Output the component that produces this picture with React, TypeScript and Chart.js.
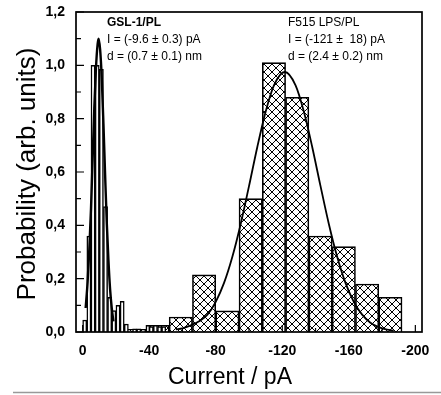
import React, { useEffect, useRef } from "react";
import { Chart, registerables } from "chart.js";

Chart.register(...registerables);

// F515 LPS/PL histogram (bin centres in pA, probability)
const rightBinCenters = [-31, -45, -59, -73, -87, -101, -115, -129, -143, -157, -171, -185];
const rightBinValues = [0.01, 0.025, 0.056, 0.214, 0.079, 0.5, 1.01, 0.88, 0.36, 0.32, 0.18, 0.13];

// GSL-1/PL histogram
const leftBinCenters = [-1.25, -3.75, -6.25, -8.75, -11.25, -13.75, -16.25, -18.75, -21.25, -23.75, -26.25, -31.25, -33.75, -41.25, -43.75, -46.25, -48.75];
const leftBinValues = [0.045, 0.36, 1.0, 1.0, 0.985, 0.47, 0.13, 0.08, 0.1, 0.115, 0.03, 0.012, 0.012, 0.02, 0.025, 0.02, 0.02];

// Fitted curves
const leftFitX = [-1.8, -3, -4, -5, -6, -7, -8, -9, -9.6, -10.5, -11.5, -12.5, -13.5, -14.5, -15.5, -16.5, -17.5, -18.5];
const leftFitY = [0.09, 0.19, 0.31, 0.46, 0.65, 0.84, 0.99, 1.08, 1.1, 1.06, 0.95, 0.78, 0.59, 0.41, 0.27, 0.16, 0.09, 0.04];
const rightFitX = [-56, -60, -65, -70, -75, -80, -85, -90, -95, -100, -105, -110, -115, -121.5, -128, -133, -138, -143, -148, -153, -158, -163, -168, -173, -178, -183, -187];
const rightFitY = [0.01, 0.014, 0.025, 0.04, 0.065, 0.113, 0.184, 0.282, 0.405, 0.547, 0.694, 0.826, 0.925, 0.975, 0.925, 0.826, 0.694, 0.547, 0.405, 0.282, 0.184, 0.113, 0.065, 0.035, 0.018, 0.009, 0.005];

const xTicks = [0, -40, -80, -120, -160, -200];
const xMinorTicks = [-20, -60, -100, -140, -180];
const yTicks = [0, 0.2, 0.4, 0.6, 0.8, 1.0, 1.2];
const yMinorTicks = [0.1, 0.3, 0.5, 0.7, 0.9, 1.1];

const xTitle = "Current / pA";
const yTitle = "Probability (arb. units)";
const leftLabel = ["GSL-1/PL", "I = (-9.6 \u00b1 0.3) pA", "d = (0.7 \u00b1 0.1) nm"];
const rightLabel = ["F515 LPS/PL", "I = (-121 \u00b1  18) pA", "d = (2.4 \u00b1 0.2) nm"];

const FONT = "'Liberation Sans', Arial, sans-serif";

const decorPlugin = {
  id: "decor",
  afterDatasetsDraw(chart: any) {
    const { ctx, chartArea: a, scales } = chart;
    const xs = scales.x;
    const ys = scales.y;
    ctx.save();
    ctx.strokeStyle = "#000";
    ctx.lineWidth = 1.2;
    ctx.beginPath();
    for (const v of yTicks) {
      const p = ys.getPixelForValue(v);
      ctx.moveTo(a.left, p);
      ctx.lineTo(a.left + 8, p);
    }
    for (const v of yMinorTicks) {
      const p = ys.getPixelForValue(v);
      ctx.moveTo(a.left, p);
      ctx.lineTo(a.left + 5, p);
    }
    for (const v of xTicks) {
      const p = xs.getPixelForValue(v);
      ctx.moveTo(p, a.bottom);
      ctx.lineTo(p, a.bottom - 7);
    }
    for (const v of xMinorTicks) {
      const p = xs.getPixelForValue(v);
      ctx.moveTo(p, a.bottom);
      ctx.lineTo(p, a.bottom - 4);
    }
    ctx.stroke();
    ctx.lineWidth = 1.7;
    ctx.strokeRect(a.left, a.top, a.right - a.left, a.bottom - a.top);

    ctx.fillStyle = "#000";
    ctx.textBaseline = "middle";
    ctx.textAlign = "left";
    const lines = (arr: string[], x: number, boldFirst: boolean) => {
      arr.forEach((t, i) => {
        ctx.font = `${i === 0 && boldFirst ? "bold " : ""}12px ${FONT}`;
        ctx.fillText(t, x, a.top + 11 + i * 17);
      });
    };
    lines(leftLabel, a.left + 31, true);
    lines(rightLabel, a.left + 212, false);

    // axis titles
    ctx.font = `23px ${FONT}`;
    ctx.textAlign = "center";
    ctx.fillText(xTitle, 230, a.bottom + 46);
    ctx.save();
    ctx.font = `26px ${FONT}`;
    ctx.translate(28, (a.top + a.bottom) / 2 + 2);
    ctx.rotate(-Math.PI / 2);
    ctx.fillText(yTitle, 0, 0);
    ctx.restore();

    ctx.strokeStyle = "#999";
    ctx.lineWidth = 1.5;
    ctx.beginPath();
    ctx.moveTo(13, chart.height - 2.5);
    ctx.lineTo(chart.width, chart.height - 2.5);
    ctx.stroke();
    ctx.restore();
  },
};

export default function App() {
  const canvasRef = useRef<HTMLCanvasElement | null>(null);

  useEffect(() => {
    const canvas = canvasRef.current;
    if (!canvas) return;
    const ctx = canvas.getContext("2d")!;
    const tile = document.createElement("canvas");
    tile.width = 8;
    tile.height = 8;
    const t = tile.getContext("2d")!;
    t.fillStyle = "#fff";
    t.fillRect(0, 0, 8, 8);
    t.strokeStyle = "#000";
    t.lineWidth = 1;
    t.beginPath();
    t.moveTo(-1, -1);
    t.lineTo(9, 9);
    t.moveTo(9, -1);
    t.lineTo(-1, 9);
    t.stroke();
    const hatch = ctx.createPattern(tile, "repeat");

    const chart = new Chart(canvas, {
      type: "bar",
      data: {
        datasets: [
          {
            type: "bar",
            data: rightBinCenters.map((x, i) => ({ x, y: rightBinValues[i] })),
            xAxisID: "x",
            backgroundColor: hatch as any,
            borderColor: "#000",
            borderWidth: 1.6,
            categoryPercentage: 1,
            barPercentage: 1,
            grouped: false,
            order: 4,
          },
          {
            type: "bar",
            data: leftBinCenters.map((x, i) => ({ x, y: leftBinValues[i] })),
            xAxisID: "x2",
            backgroundColor: "#fff",
            borderColor: "#000",
            borderWidth: 1.5,
            categoryPercentage: 1,
            barPercentage: 1,
            grouped: false,
            order: 3,
          },
          {
            type: "line",
            data: leftFitX.map((x, i) => ({ x, y: leftFitY[i] })),
            xAxisID: "x",
            borderColor: "#000",
            borderWidth: 2.4,
            pointRadius: 0,
            cubicInterpolationMode: "monotone",
            fill: false,
            order: 2,
          },
          {
            type: "line",
            data: rightFitX.map((x, i) => ({ x, y: rightFitY[i] })),
            xAxisID: "x",
            borderColor: "#000",
            borderWidth: 1.8,
            pointRadius: 0,
            cubicInterpolationMode: "monotone",
            fill: false,
            order: 1,
          },
        ] as any,
      },
      options: {
        animation: false,
        responsive: true,
        maintainAspectRatio: false,
        layout: { padding: { top: 12, right: 19, left: 0, bottom: 0 } },
        plugins: { legend: { display: false }, tooltip: { enabled: false } },
        scales: {
          x: {
            type: "linear",
            reverse: true,
            offset: false,
            min: -204,
            max: 4,
            grid: { display: false, drawTicks: false, offset: false },
            border: { display: false },
            afterBuildTicks: (s: any) => {
              s.ticks = xTicks.map((v) => ({ value: v }));
            },
            afterFit: (s: any) => {
              s.height = 63;
              s.paddingLeft = 0;
              s.paddingRight = 0;
            },
            ticks: {
              padding: 11,
              autoSkip: false,
              maxRotation: 0,
              color: "#000",
              font: { family: FONT, size: 14, weight: "bold" },
              callback: (v: any) => String(v),
            },
          },
          x2: {
            type: "linear",
            display: false,
            reverse: true,
            offset: false,
            min: -204,
            max: 4,
            grid: { offset: false },
          },
          y: {
            min: 0,
            max: 1.2,
            grid: { display: false, drawTicks: false },
            border: { display: false },
            afterBuildTicks: (s: any) => {
              s.ticks = yTicks.map((v) => ({ value: v }));
            },
            afterFit: (s: any) => {
              s.width = 76;
              s.paddingTop = 0;
              s.paddingBottom = 0;
            },
            ticks: {
              padding: 11,
              color: "#000",
              font: { family: FONT, size: 14, weight: "bold" },
              callback: (v: any) => Number(v).toFixed(1).replace(".", ","),
            },
          },
        },
      } as any,
      plugins: [decorPlugin],
    });
    return () => chart.destroy();
  }, []);

  return (
    <div style={{ position: "fixed", left: 0, top: 0, width: 441, height: 395, background: "#fff" }}>
      <canvas ref={canvasRef} />
    </div>
  );
}
